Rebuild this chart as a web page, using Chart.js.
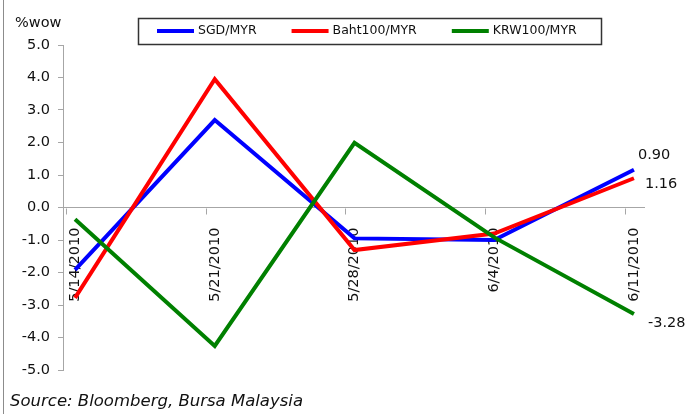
<!DOCTYPE html>
<html>
<head>
<meta charset="utf-8">
<script src="https://cdn.jsdelivr.net/npm/chart.js@4/dist/chart.umd.min.js"></script>
<style>
  html, body { margin: 0; padding: 0; background: #fff; }
  #wrap { width: 691px; height: 414px; position: relative; }
</style>
</head>
<body>
<div id="wrap"><canvas id="c" width="691" height="414"></canvas></div>
<script>
// Weekly % change of regional currencies against the ringgit
const dates = ['5/14/2010', '5/21/2010', '5/28/2010', '6/4/2010', '6/11/2010'];
const sgdMyr = [-1.92, 2.69, -0.95, -1.00, 1.16];
const bahtMyr = [-2.78, 3.95, -1.31, -0.80, 0.90];
const krwMyr = [-0.36, -4.26, 1.99, -0.92, -3.28];
const yTicks = [5, 4, 3, 2, 1, 0, -1, -2, -3, -4, -5];

const seriesNames = ['SGD/MYR', 'Baht100/MYR', 'KRW100/MYR'];
const seriesColors = ['#0000ff', '#ff0000', '#008000'];
// later series sit on top of earlier ones
const drawOrder = [3, 2, 1];

const FONT = 'DejaVu Sans';
const AXIS_GREY = '#a6a6a6';

const toPoints = arr => arr.map((v, i) => ({ x: i, y: v }));

// where the end-of-line value is written, relative to the last point
const endLabelShift = [
  { dx: 11, dy: 14 },
  { dx: 4, dy: -23 },
  { dx: 14, dy: 9 }
];

const decorations = {
  id: 'decorations',
  afterDraw(chart) {
    const ctx = chart.ctx;
    const xs = chart.scales.x;
    const ys = chart.scales.y;
    ctx.save();

    // left frame edge
    ctx.strokeStyle = '#8c8c8c';
    ctx.lineWidth = 1;
    ctx.beginPath();
    ctx.moveTo(3.5, 0);
    ctx.lineTo(3.5, 414);
    ctx.stroke();

    // category tick marks on the zero line, just left of each date
    ctx.strokeStyle = AXIS_GREY;
    const zy = Math.round(ys.getPixelForValue(0)) + 0.5;
    dates.forEach((d, i) => {
      const px = Math.round(xs.getPixelForValue(i - 0.065)) + 0.5;
      ctx.beginPath();
      ctx.moveTo(px, zy);
      ctx.lineTo(px, zy + 6);
      ctx.stroke();
    });

    // unit caption
    ctx.fillStyle = '#111';
    ctx.font = '14.5px "' + FONT + '"';
    ctx.textAlign = 'left';
    ctx.textBaseline = 'middle';
    ctx.fillText('%wow', 15, 23);

    // end-of-line values
    chart.data.datasets.forEach((ds, i) => {
      const last = ds.data[ds.data.length - 1];
      const px = xs.getPixelForValue(last.x);
      const py = ys.getPixelForValue(last.y);
      ctx.fillText(last.y.toFixed(2), px + endLabelShift[i].dx, py + endLabelShift[i].dy);
    });

    // source note
    ctx.font = 'italic 16.5px "' + FONT + '"';
    ctx.fillText('Source: Bloomberg, Bursa Malaysia', 10, 402);

    // legend
    ctx.strokeStyle = '#333';
    ctx.lineWidth = 1.5;
    ctx.strokeRect(138.5, 18.5, 463, 26);
    ctx.font = '12.5px "' + FONT + '"';
    let lx = 157;
    const ly = 31;
    chart.data.datasets.forEach((ds) => {
      ctx.strokeStyle = ds.borderColor;
      ctx.lineWidth = 4;
      ctx.beginPath();
      ctx.moveTo(lx, ly);
      ctx.lineTo(lx + 37, ly);
      ctx.stroke();
      ctx.fillStyle = '#111';
      ctx.fillText(ds.label, lx + 41, ly);
      lx += 41 + ctx.measureText(ds.label).width + 35;
    });
    ctx.restore();
  }
};

new Chart(document.getElementById('c'), {
  type: 'line',
  data: {
    datasets: [sgdMyr, bahtMyr, krwMyr].map((vals, i) => ({
      label: seriesNames[i],
      data: toPoints(vals),
      borderColor: seriesColors[i],
      backgroundColor: seriesColors[i],
      borderWidth: 4,
      pointRadius: 0,
      tension: 0,
      order: drawOrder[i]
    }))
  },
  options: {
    responsive: false,
    animation: false,
    events: [],
    layout: { padding: { left: 0, top: 45, right: 47, bottom: 44 } },
    plugins: { legend: { display: false }, tooltip: { enabled: false } },
    scales: {
      x: {
        type: 'linear',
        position: { y: 0 },
        min: -0.086,
        max: 4.072,
        afterBuildTicks: s => { s.ticks = dates.map((d, i) => ({ value: i })); },
        grid: { display: false },
        border: { display: true, color: AXIS_GREY, width: 1 },
        ticks: {
          autoSkip: false,
          minRotation: 90,
          maxRotation: 90,
          padding: 12,
          color: '#111',
          font: { family: FONT, size: 14.5 },
          callback: v => dates[v]
        }
      },
      y: {
        min: -5,
        max: 5,
        afterBuildTicks: s => { s.ticks = yTicks.map(v => ({ value: v })); },
        afterFit: s => { s.width = 63; },
        grid: { drawOnChartArea: false, drawTicks: true, tickLength: 5, color: AXIS_GREY },
        border: { display: true, color: AXIS_GREY, width: 1 },
        ticks: {
          padding: 8,
          color: '#111',
          font: { family: FONT, size: 14.5 },
          callback: v => v.toFixed(1)
        }
      }
    }
  },
  plugins: [decorations]
});
</script>
</body>
</html>
